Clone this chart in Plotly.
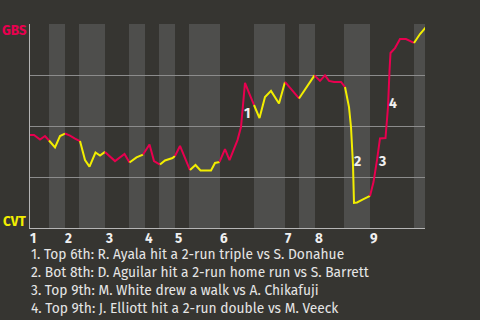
import plotly.graph_objects as go

# ---- data ----
play_x = [0, 4, 10, 15, 19,
          25, 30, 35,
          40, 45, 50,
          55, 59.5, 65.5, 70, 75,
          85, 94.5, 99.5,
          106.5, 113,
          119.5, 124, 130,
          135, 142.5, 145,
          150, 160,
          165.5, 170.5, 181, 185, 189.5,
          195, 199.5, 207.5, 211, 212.5, 215, 219, 224,
          229.5, 235, 241, 249, 255,
          263, 269,
          275, 284.5,
          290, 295, 299, 304, 311, 315,
          319, 321, 322, 323, 324, 327, 333, 340,
          343.5, 347, 350, 355.5, 358, 359.5, 360.5, 365, 370, 376, 384,
          390, 396]
gbs_wp = [0.456, 0.456, 0.434, 0.451, 0.429,
          0.395, 0.451, 0.463,
          0.453, 0.438, 0.426,
          0.333, 0.301, 0.370, 0.355, 0.373,
          0.328, 0.363, 0.321,
          0.346, 0.360,
          0.409, 0.328, 0.311,
          0.331, 0.343, 0.353,
          0.402, 0.284,
          0.309, 0.282, 0.282, 0.319, 0.324,
          0.387, 0.333, 0.431, 0.495, 0.578, 0.711, 0.662, 0.603,
          0.539, 0.642, 0.672, 0.610, 0.716,
          0.667, 0.635,
          0.681, 0.748,
          0.721, 0.748, 0.721, 0.716, 0.716, 0.691,
          0.593, 0.495, 0.397, 0.309, 0.123, 0.125, 0.140, 0.157,
          0.225, 0.333, 0.439, 0.441, 0.593, 0.770, 0.858, 0.882, 0.926, 0.926, 0.907,
          0.951, 0.985]
plays_per_half = [5, 3, 3, 5, 3, 2, 3, 3, 2, 5, 8, 5, 2, 2, 6, 8, 11, 2]
half_bounds = [0, 19, 35, 49, 75, 99, 115, 129, 145, 159, 190, 224, 255, 269, 285, 314, 340, 384, 395]
inning_labels = ["1", "2", "3", "4", "5", "6", "7", "8", "9"]
key_plays = ["1", "2", "3", "4"]
key_x = [217, 327, 352, 363]
key_wp = [0.559, 0.324, 0.324, 0.608]
notes = [
    "1. Top 6th: R. Ayala hit a 2-run triple vs S. Donahue",
    "2. Bot 8th: D. Aguilar hit a 2-run home run vs S. Barrett",
    "3. Top 9th: M. White drew a walk vs A. Chikafuji",
    "4. Top 9th: J. Elliott hit a 2-run double vs M. Veeck",
]
team_top, team_bottom = "GBS", "CVT"

RED = "#e8004f"
YEL = "#f2ee00"
BG = "#363531"
BAND = "#4e4e4c"
FONT = "Fira Sans, Noto Sans, sans-serif"

fig = go.Figure()

# line segments coloured by half inning
start = 0
for h, n in enumerate(plays_per_half):
    i0 = max(start - 1, 0)
    xs = play_x[i0:start + n]
    ys = gbs_wp[i0:start + n]
    fig.add_trace(go.Scatter(x=xs, y=ys, mode="lines",
                             line=dict(color=RED if h % 2 == 0 else YEL, width=2),
                             hoverinfo="skip", showlegend=False))
    start += n

shapes = []
for h in range(len(half_bounds) - 1):
    if h % 2 == 1:
        shapes.append(dict(type="rect", xref="x", yref="paper",
                           x0=half_bounds[h], x1=half_bounds[h + 1], y0=0, y1=1,
                           fillcolor=BAND, line_width=0, layer="below"))

ann = []
for k, lab in enumerate(inning_labels):
    ann.append(dict(x=half_bounds[2 * k], y=-0.052, xref="x", yref="paper",
                    text="<b>%s</b>" % lab, showarrow=False, xanchor="left", yanchor="middle",
                    xshift=-1, borderpad=0,
                    font=dict(family=FONT, size=13.5, color="#f0f0f0")))
for lab, kx, ky in zip(key_plays, key_x, key_wp):
    ann.append(dict(x=kx, y=ky, text="<b>%s</b>" % lab, showarrow=False,
                    font=dict(family=FONT, size=14, color="#f0f0f0")))
for j, t in enumerate(notes):
    ann.append(dict(x=0, y=-0.132 - 0.0875 * j, xref="paper", yref="paper",
                    text=t, showarrow=False, xanchor="left", yanchor="middle",
                    borderpad=0,
                    font=dict(family=FONT, size=13.8, color="#e6e6e6")))
ann.append(dict(x=-0.002, y=0.966, xref="paper", yref="paper", text="<b>%s</b>" % team_top,
                showarrow=False, xanchor="right", yanchor="middle",
                font=dict(family=FONT, size=13.5, color=RED)))
ann.append(dict(x=-0.005, y=0.034, xref="paper", yref="paper", text="<b>%s</b>" % team_bottom,
                showarrow=False, xanchor="right", yanchor="middle",
                font=dict(family=FONT, size=13.5, color=YEL)))

fig.update_layout(
    width=480, height=320,
    margin=dict(l=30, r=55, t=24, b=92),
    paper_bgcolor=BG, plot_bgcolor=BG,
    shapes=shapes, annotations=ann,
    xaxis=dict(range=[0, 395], showgrid=False, zeroline=False, showticklabels=False,
               showline=True, linecolor="#b5b5b5", linewidth=1, fixedrange=True),
    yaxis=dict(range=[0, 1], tickvals=[0.25, 0.5, 0.75, 1.0], showticklabels=False,
               showgrid=True, gridcolor="#8c8c8c", gridwidth=1, zeroline=False,
               showline=True, linecolor="#b5b5b5", linewidth=1, fixedrange=True),
)

fig.write_html("out.html", config={"displayModeBar": False})
